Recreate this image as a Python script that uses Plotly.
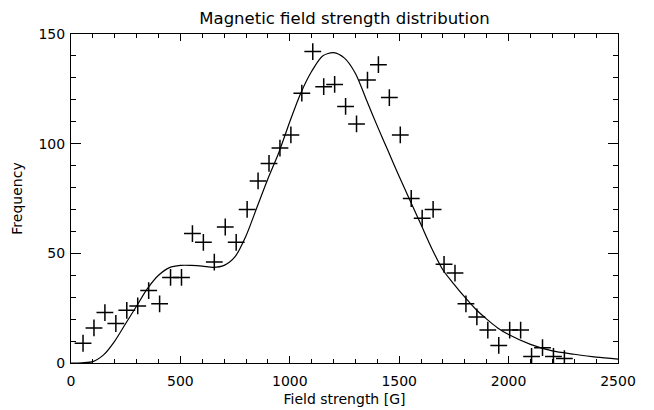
import plotly.graph_objects as go

# Histogram points (field strength bin, frequency)
field_bins = [55, 105, 155, 205, 255, 305, 355, 405, 455, 505,
              555, 605, 655, 705, 755, 805, 855, 905, 955, 1005,
              1055, 1105, 1155, 1205, 1255, 1305, 1355, 1405, 1455, 1505,
              1555, 1605, 1655, 1705, 1755, 1805, 1855, 1905, 1955, 2005,
              2055, 2105, 2155, 2205, 2255]
frequency = [9, 16, 23, 18, 24, 26, 33, 27, 39, 39,
             59, 55, 46, 62, 55, 70, 83, 91, 98, 104,
             123, 142, 126, 127, 117, 109, 129, 136, 121, 104,
             75, 66, 70, 45, 41, 27, 21, 15, 8, 15,
             15, 3, 7, 3, 2]

# Fitted curve
fit_x = [0, 50, 100, 150, 200, 250, 300, 350, 400, 450, 500, 550, 600, 650,
         700, 750, 800, 850, 900, 950, 1000, 1050, 1100, 1150, 1200, 1250,
         1300, 1350, 1400, 1450, 1500, 1550, 1600, 1650, 1700, 1750, 1800,
         1850, 1900, 1950, 2000, 2100, 2200, 2300, 2400, 2500]
fit_y = [0, 0.1, 0.6, 3.8, 10, 18, 26, 34, 40, 43.5, 44.5, 44.5, 44.2, 43.6,
         44.5, 48.5, 58, 71, 84, 96, 110, 123, 133, 140, 141.5, 139,
         132, 120, 108, 96.5, 85, 74, 63, 52, 42.4, 36, 30,
         24.5, 20, 16, 13, 8.5, 5.5, 4, 2.7, 1.8]

title_text = "Magnetic field strength distribution"
x_title = "Field strength [G]"
y_title = "Frequency"

FONT = "DejaVu Sans"

fig = go.Figure()
fig.add_trace(go.Scatter(
    x=fit_x, y=fit_y, mode="lines",
    line=dict(color="black", width=1.2, shape="spline", smoothing=0.8),
    hoverinfo="skip", showlegend=False))
fig.add_trace(go.Scatter(
    x=field_bins, y=frequency, mode="markers",
    marker=dict(symbol="cross-thin", size=12,
                line=dict(color="black", width=1.5)),
    showlegend=False))

# The page body has an 8px default margin, so margins are offset by 8px.
fig.update_layout(
    width=654, height=410,
    margin=dict(l=63, r=44, t=26, b=55),
    paper_bgcolor="white", plot_bgcolor="white",
    font=dict(family=FONT, size=14, color="black"),
    title=dict(text=title_text, xref="paper", x=0.5, xanchor="center",
               y=0.975, yanchor="middle",
               font=dict(family=FONT, size=16.5, color="black")),
    xaxis=dict(range=[0, 2500], dtick=500, tick0=0, ticks="inside", ticklen=7,
               tickcolor="black", showline=True, linecolor="black", linewidth=1,
               mirror="allticks", showgrid=False, zeroline=False,
               ticklabelstandoff=5, automargin=False,
               minor=dict(dtick=100, ticks="inside", ticklen=4, tickcolor="black"),
               title=dict(text=x_title, standoff=6, font=dict(size=14))),
    yaxis=dict(range=[0, 150], dtick=50, tick0=0, ticks="inside", ticklen=10,
               tickcolor="black", showline=True, linecolor="black", linewidth=1,
               mirror="allticks", showgrid=False, zeroline=False,
               ticklabelstandoff=2, automargin=False,
               minor=dict(dtick=10, ticks="inside", ticklen=5, tickcolor="black"),
               title=dict(text=y_title, standoff=12, font=dict(size=14))),
)

fig.write_html("out.html")
